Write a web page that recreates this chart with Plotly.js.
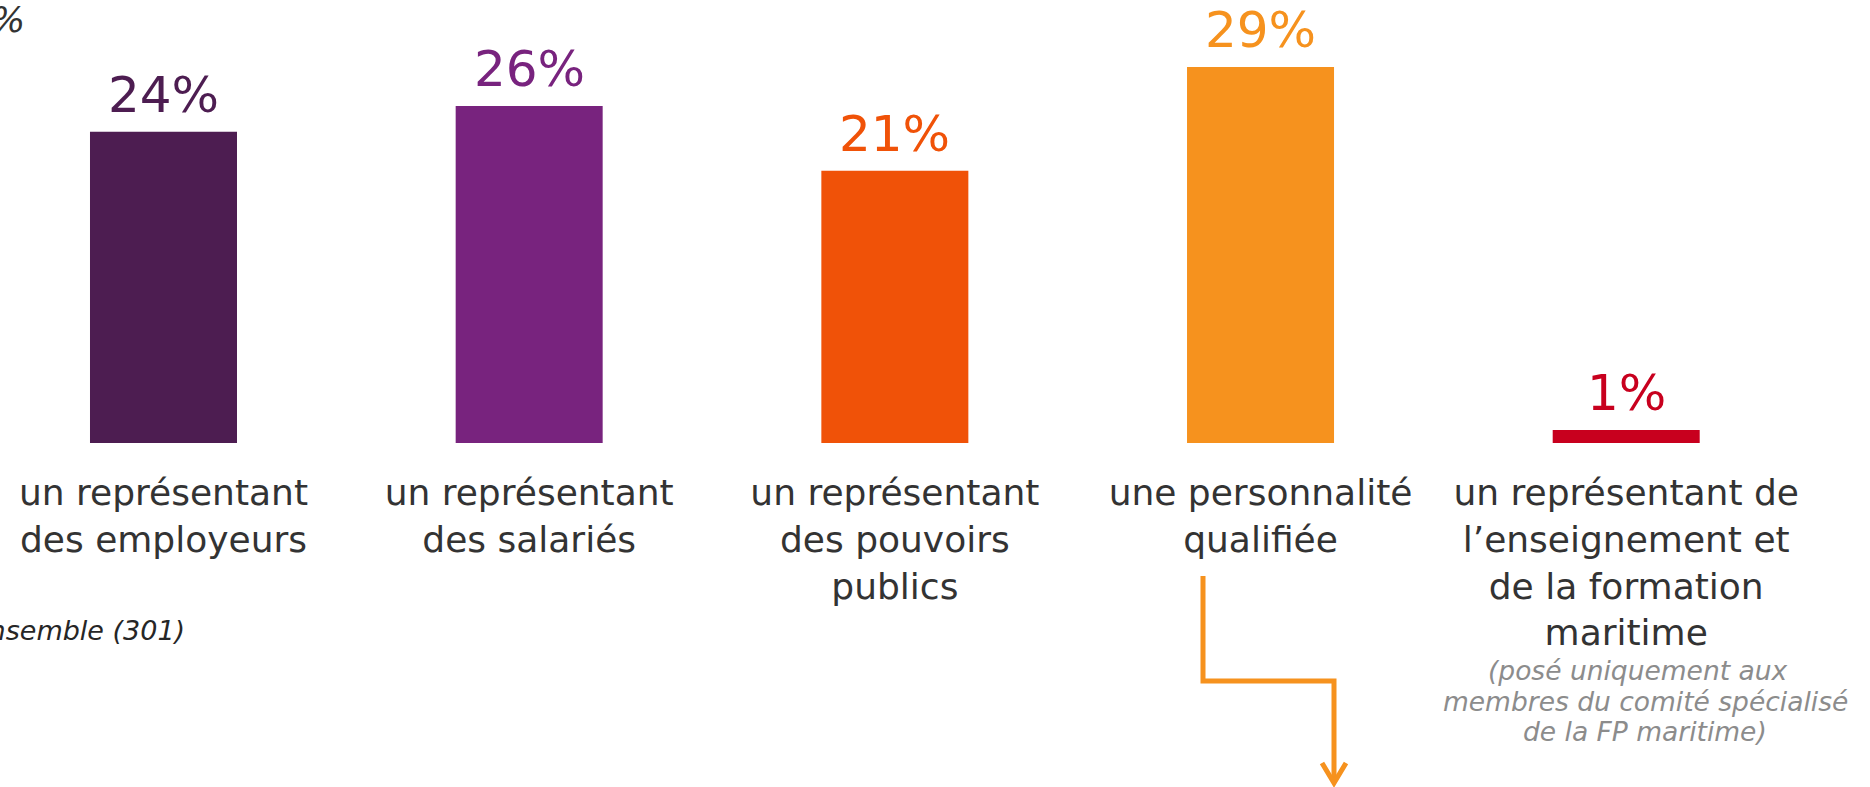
<!DOCTYPE html>
<html>
<head>
<meta charset="utf-8">
<script src="https://cdn.plot.ly/plotly-3.0.1.min.js"></script>
<style>
  html, body { margin: 0; padding: 0; background: #fff; }
  #chart { width: 1870px; height: 787px; }
</style>
</head>
<body>
<div id="chart"></div>
<script>
// Categories, values and colours
const categories = [
  "un représentant<br>des employeurs",
  "un représentant<br>des salariés",
  "un représentant<br>des pouvoirs<br>publics",
  "une personnalité<br>qualifiée",
  "un représentant de<br>l’enseignement et<br>de la formation<br>maritime"
];
const shares = [24, 26, 21, 29, 1];
const barColors = ["#4d1d51", "#78237e", "#f05208", "#f6921e", "#c8001e"];

const footnoteLines = [
  "(posé uniquement aux",
  "membres du comité spécialisé",
  "de la FP maritime)"
];
const baseText = "Base : ensemble (301)";

const W = 1870, H = 787;
const axisY = 443; // pixel row of the bar baseline

// pixel -> paper helpers (margins l=r=t=0)
const px = x => x / W;
const py = y => (axisY - y) / axisY;

const trace = {
  type: "bar",
  x: categories,
  y: shares,
  width: 0.402,
  marker: { color: barColors },
  hoverinfo: "skip"
};

// value labels above the bars, placed on the data scale
const valueLabels = shares.map((v, i) => ({
  x: categories[i],
  y: v,
  xref: "x", yref: "y",
  text: v + "%",
  showarrow: false,
  xanchor: "center", yanchor: "bottom",
  yshift: 6,
  font: { size: 50, color: barColors[i], family: "DejaVu Sans" }
}));

// grey note under the last category, one line at a time (tighter leading)
const footnoteRows = [670, 701, 732];
const footnoteCenters = [1638, 1645, 1645];
const footnoteNotes = footnoteLines.map((line, i) => ({
  xref: "paper", yref: "paper",
  x: px(footnoteCenters[i]), y: py(footnoteRows[i]),
  xanchor: "center", yanchor: "middle",
  text: "<i>" + line + "</i>",
  showarrow: false,
  font: { size: 26.5, color: "#8c8c8c", family: "DejaVu Sans" }
}));

// orange elbow arrow under "qualifiée"
const arrowPath = [
  `M ${px(1203)},${py(576)}`,
  `L ${px(1203)},${py(681)}`,
  `L ${px(1334)},${py(681)}`,
  `L ${px(1334)},${py(782)}`
].join(" ");
const arrowHead = [
  `M ${px(1322)},${py(763)}`,
  `L ${px(1334)},${py(783)}`,
  `L ${px(1346)},${py(763)}`
].join(" ");

const layout = {
  width: W,
  height: H,
  margin: { l: 0, r: 0, t: 0, b: H - axisY },
  paper_bgcolor: "#ffffff",
  plot_bgcolor: "#ffffff",
  showlegend: false,
  font: { family: "DejaVu Sans", color: "#333333" },
  xaxis: {
    type: "category",
    range: [-0.4471, 4.6667],
    showgrid: false,
    zeroline: false,
    showline: false,
    ticks: "",
    ticklabelstandoff: 25,
    tickfont: { size: 36, color: "#333333", family: "DejaVu Sans" },
    fixedrange: true
  },
  yaxis: {
    range: [0, axisY / 12.966],
    showgrid: false,
    zeroline: false,
    showticklabels: false,
    fixedrange: true
  },
  shapes: [
    { type: "path", xref: "paper", yref: "paper", path: arrowPath,
      line: { color: "#f6921e", width: 5 } },
    { type: "path", xref: "paper", yref: "paper", path: arrowHead,
      line: { color: "#f6921e", width: 5 } }
  ],
  annotations: [
    ...valueLabels,
    ...footnoteNotes,
    {
      xref: "paper", yref: "paper",
      x: px(187), y: py(630),
      xanchor: "right", yanchor: "middle",
      text: "<i>" + baseText + "</i>",
      showarrow: false,
      font: { size: 27, color: "#262626", family: "DejaVu Sans" }
    },
    {
      xref: "paper", yref: "paper",
      x: px(27), y: py(19),
      xanchor: "right", yanchor: "middle",
      text: "<i>%</i>",
      showarrow: false,
      font: { size: 36, color: "#333333", family: "DejaVu Sans" }
    }
  ]
};

Plotly.newPlot("chart", [trace], layout, { displayModeBar: false, staticPlot: true });
</script>
</body>
</html>
